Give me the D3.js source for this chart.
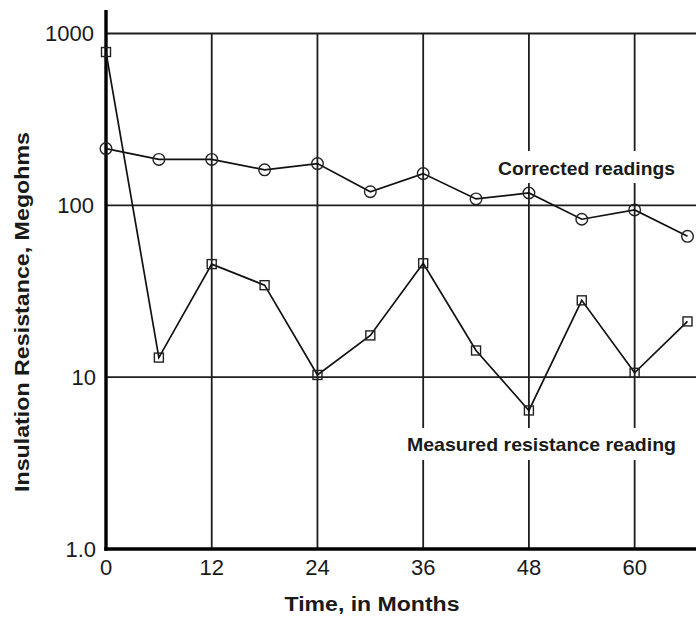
<!DOCTYPE html>
<html lang="en">
<head>
<meta charset="UTF-8">
<title>Insulation resistance</title>
<script src="https://d3js.org/d3.v7.min.js"></script>
<style>
  body { margin: 0; background: #fff; }
  text { font-family: "Liberation Sans", Arial, sans-serif; fill: #1a1a1a; }
</style>
</head>
<body>
<svg id="chart" width="696" height="617"></svg>
<script>
// months of each reading
var months = [0, 6, 12, 18, 24, 30, 36, 42, 48, 54, 60, 66];
// corrected readings (circles), megohms
var corrected = [214, 185, 185, 161, 175, 120, 153, 109, 118, 83, 94, 66];
// measured resistance readings (squares), megohms
var measured = [780, 13, 45.5, 34.3, 10.3, 17.5, 46, 14.3, 6.4, 28, 10.6, 21.1];

var xTicks = [0, 12, 24, 36, 48, 60];
var yTicks = [1, 10, 100, 1000];
var yTickLabels = ["1.0", "10", "100", "1000"];

var svg = d3.select("#chart");
var left = 106, bottom = 549, top1000 = 33.5, right = 696;

var x = d3.scaleLinear().domain([0, 66]).range([left, 687.5]);
var y = d3.scaleLog().domain([1, 1000]).range([bottom, top1000]);

// grid
svg.append("g").selectAll("line")
  .data(yTicks.slice(1))
  .enter().append("line")
  .attr("x1", left).attr("x2", right)
  .attr("y1", function(d) { return y(d); })
  .attr("y2", function(d) { return y(d); })
  .attr("stroke", "#1e1e1e").attr("stroke-width", 1.8);

svg.append("g").selectAll("line")
  .data(xTicks.slice(1))
  .enter().append("line")
  .attr("x1", function(d) { return x(d); })
  .attr("x2", function(d) { return x(d); })
  .attr("y1", top1000).attr("y2", bottom)
  .attr("stroke", "#1e1e1e").attr("stroke-width", 1.8);

// label backgrounds break the grid lines
svg.append("rect").attr("x", 494).attr("y", 151).attr("width", 186).attr("height", 32).attr("fill", "#fff");
svg.append("rect").attr("x", 403).attr("y", 428).attr("width", 278).attr("height", 32).attr("fill", "#fff");

// axes
svg.append("line").attr("x1", left).attr("x2", left).attr("y1", 10).attr("y2", bottom + 1.7)
  .attr("stroke", "#000").attr("stroke-width", 3.4);
svg.append("line").attr("x1", left - 1.7).attr("x2", right).attr("y1", bottom).attr("y2", bottom)
  .attr("stroke", "#000").attr("stroke-width", 3.4);

// tick labels
svg.append("g").selectAll("text")
  .data(yTicks)
  .enter().append("text")
  .attr("x", function(d, i) { return i < 2 ? 96 : 94; })
  .attr("y", function(d) { return y(d); })
  .attr("dy", "0.36em")
  .attr("text-anchor", "end")
  .style("font-size", "22px")
  .text(function(d, i) { return yTickLabels[i]; });

svg.append("g").selectAll("text")
  .data(xTicks)
  .enter().append("text")
  .attr("x", function(d) { return x(d); })
  .attr("y", 567)
  .attr("dy", "0.36em")
  .attr("text-anchor", "middle")
  .style("font-size", "22px")
  .text(function(d) { return d; });

// axis titles
svg.append("text")
  .attr("transform", "translate(22,312) rotate(-90)")
  .attr("text-anchor", "middle")
  .attr("dy", "0.36em")
  .attr("textLength", 360).attr("lengthAdjust", "spacingAndGlyphs")
  .style("font-size", "20px").style("font-weight", "bold")
  .text("Insulation Resistance, Megohms");

svg.append("text")
  .attr("x", 372).attr("y", 604)
  .attr("text-anchor", "middle")
  .attr("dy", "0.36em")
  .attr("textLength", 175).attr("lengthAdjust", "spacingAndGlyphs")
  .style("font-size", "20px").style("font-weight", "bold")
  .text("Time, in Months");

// series labels
svg.append("text")
  .attr("x", 498).attr("y", 168).attr("dy", "0.36em")
  .attr("textLength", 177).attr("lengthAdjust", "spacingAndGlyphs")
  .style("font-size", "19px").style("font-weight", "bold")
  .text("Corrected readings");

svg.append("text")
  .attr("x", 407).attr("y", 444).attr("dy", "0.36em")
  .attr("textLength", 269).attr("lengthAdjust", "spacingAndGlyphs")
  .style("font-size", "19px").style("font-weight", "bold")
  .text("Measured resistance reading");

// lines
var line = d3.line()
  .x(function(d) { return x(d[0]); })
  .y(function(d) { return y(d[1]); });

svg.append("path")
  .datum(d3.zip(months, corrected))
  .attr("d", line)
  .attr("fill", "none").attr("stroke", "#111").attr("stroke-width", 1.7);

svg.append("path")
  .datum(d3.zip(months, measured))
  .attr("d", line)
  .attr("fill", "none").attr("stroke", "#111").attr("stroke-width", 1.7);

// markers
svg.append("g").selectAll("circle")
  .data(d3.zip(months, corrected))
  .enter().append("circle")
  .attr("cx", function(d) { return x(d[0]); })
  .attr("cy", function(d) { return y(d[1]); })
  .attr("r", 5.8)
  .attr("fill", "none").attr("stroke", "#222").attr("stroke-width", 1.4);

svg.append("g").selectAll("rect")
  .data(d3.zip(months, measured))
  .enter().append("rect")
  .attr("class", "sq")
  .attr("x", function(d) { return x(d[0]) - 4.5; })
  .attr("y", function(d) { return y(d[1]) - 4.5; })
  .attr("width", 9).attr("height", 9)
  .attr("fill", "none").attr("stroke", "#222").attr("stroke-width", 1.4);
</script>
</body>
</html>
